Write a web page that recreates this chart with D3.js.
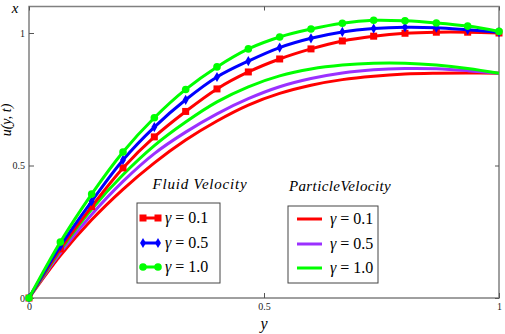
<!DOCTYPE html>
<html>
<head>
<meta charset="utf-8">
<script src="https://cdn.jsdelivr.net/npm/d3@7"></script>
<style>
  body { margin: 0; background: #fff; }
  svg text { font-family: "Liberation Serif", "DejaVu Serif", serif; }
</style>
</head>
<body>
<script>
// y positions where the curves were read (k / 15)
const yPoints = d3.range(16).map(k => k / 15);

// fluid velocity
const fluid01 = [0, 0.185, 0.345, 0.491, 0.608, 0.704, 0.789, 0.853, 0.902, 0.940, 0.970, 0.988, 0.999, 1.003, 1.003, 1.000];
const fluid05 = [0, 0.196, 0.365, 0.521, 0.645, 0.748, 0.834, 0.894, 0.945, 0.980, 1.004, 1.017, 1.022, 1.020, 1.012, 1.003];
const fluid10 = [0, 0.211, 0.392, 0.551, 0.680, 0.787, 0.872, 0.940, 0.985, 1.015, 1.037, 1.048, 1.046, 1.038, 1.026, 1.006];

// particle velocity
const part01 = [0, 0.160, 0.295, 0.410, 0.510, 0.596, 0.668, 0.728, 0.772, 0.803, 0.824, 0.837, 0.845, 0.848, 0.849, 0.848];
const part05 = [0, 0.170, 0.315, 0.440, 0.545, 0.626, 0.695, 0.752, 0.797, 0.828, 0.849, 0.861, 0.866, 0.865, 0.858, 0.848];
const part10 = [0, 0.180, 0.335, 0.465, 0.575, 0.664, 0.740, 0.797, 0.838, 0.864, 0.879, 0.886, 0.886, 0.879, 0.866, 0.848];

const gammaLabels = ["0.1", "0.5", "1.0"];
const xTicks = [0, 0.5, 1];
const yTicks = [0, 0.5, 1];

const width = 505, height = 334;
const plotL = 29, plotR = 499, plotT = 6.5, plotB = 298;
const serif = '"Liberation Serif", "Times New Roman", "DejaVu Serif", serif';

const svg = d3.select("body").append("svg")
  .attr("width", width)
  .attr("height", height);

const xScale = d3.scaleLinear().domain([0, 1]).range([plotL, plotR]);
const yScale = d3.scaleLinear().domain([0, 1.1]).range([plotB, plotT]);

const line = d3.line()
  .x((d, i) => xScale(yPoints[i]))
  .y(d => yScale(d))
  .curve(d3.curveCatmullRom);

const fluidSeries = [
  { values: fluid01, color: "#ff0000", marker: "square" },
  { values: fluid05, color: "#0000ff", marker: "diamond" },
  { values: fluid10, color: "#00ff00", marker: "circle" }
];
const particleSeries = [
  { values: part01, color: "#ff0000" },
  { values: part05, color: "#9b30ff" },
  { values: part10, color: "#00ff00" }
];

// frame
svg.append("rect")
  .attr("x", plotL).attr("y", plotT)
  .attr("width", plotR - plotL).attr("height", plotB - plotT)
  .style("fill", "none").style("stroke", "#808080").style("stroke-width", 1.5);

// axes, ticks inside
const axisStyle = g => {
  g.select(".domain").remove();
  g.selectAll(".tick line").style("stroke", "#555");
  g.selectAll("text").style("font-family", serif).style("font-size", "10px").style("fill", "#222");
};
svg.append("g")
  .attr("transform", "translate(0," + plotB + ")")
  .call(d3.axisBottom(xScale).tickValues(xTicks).tickSizeInner(-5).tickPadding(5).tickFormat(d3.format("")))
  .call(axisStyle);
svg.append("g")
  .attr("transform", "translate(0," + plotT + ")")
  .call(d3.axisTop(xScale).tickValues(xTicks).tickSizeInner(-4).tickFormat(""))
  .call(axisStyle);
svg.append("g")
  .attr("transform", "translate(" + plotL + ",0)")
  .call(d3.axisLeft(yScale).tickValues(yTicks).tickSizeInner(-5).tickPadding(4).tickFormat(d3.format("")))
  .call(axisStyle);
svg.append("g")
  .attr("transform", "translate(" + plotR + ",0)")
  .call(d3.axisRight(yScale).tickValues(yTicks).tickSizeInner(-4).tickFormat(""))
  .call(axisStyle);

// particle curves
particleSeries.forEach(s => {
  svg.append("path")
    .datum(s.values)
    .attr("d", line)
    .style("fill", "none").style("stroke", s.color).style("stroke-width", 3);
});

// fluid curves with markers
const drawMarker = (g, type, cx, cy, color) => {
  if (type === "square") {
    g.append("rect").attr("x", cx - 3.5).attr("y", cy - 3.5).attr("width", 7).attr("height", 7).style("fill", color);
  } else if (type === "diamond") {
    g.append("path").attr("d", d3.symbol(d3.symbolDiamond, 30)()).attr("transform", "translate(" + cx + "," + cy + ")").style("fill", color);
  } else {
    g.append("circle").attr("cx", cx).attr("cy", cy).attr("r", 3.8).style("fill", color);
  }
};
fluidSeries.forEach(s => {
  const g = svg.append("g");
  g.append("path")
    .datum(s.values)
    .attr("d", line)
    .style("fill", "none").style("stroke", s.color).style("stroke-width", 3);
  s.values.forEach((v, i) => drawMarker(g, s.marker, xScale(yPoints[i]), yScale(v), s.color));
});

// axis titles
svg.append("text")
  .attr("x", 264).attr("y", 329)
  .attr("text-anchor", "middle")
  .style("font-family", serif).style("font-style", "italic").style("font-size", "16px")
  .text("y");
svg.append("text")
  .attr("transform", "translate(11,120) rotate(-90)")
  .attr("text-anchor", "middle")
  .style("font-family", serif).style("font-style", "italic").style("font-size", "14px")
  .text("u(y, t)");
svg.append("text")
  .attr("x", 15).attr("y", 13)
  .attr("text-anchor", "middle")
  .style("font-family", serif).style("font-style", "italic").style("font-size", "15px")
  .text("x");

// legends
const legendRows = [218, 243, 267];

svg.append("text")
  .attr("x", 200).attr("y", 189)
  .attr("text-anchor", "middle")
  .style("font-family", serif).style("font-style", "italic").style("font-size", "15px")
  .style("letter-spacing", "0.8px")
  .text("Fluid Velocity");
svg.append("rect")
  .attr("x", 137).attr("y", 203).attr("width", 83).attr("height", 80)
  .style("fill", "white").style("stroke", "#444").style("stroke-width", 1);
fluidSeries.forEach((s, i) => {
  const g = svg.append("g");
  const yy = legendRows[i];
  g.append("line").attr("x1", 143).attr("x2", 158).attr("y1", yy).attr("y2", yy)
    .style("stroke", s.color).style("stroke-width", 3);
  drawMarker(g, s.marker, 143, yy, s.color);
  drawMarker(g, s.marker, 158, yy, s.color);
  const t = g.append("text").attr("x", 165).attr("y", yy + 5)
    .style("font-family", serif).style("font-size", "16px");
  t.append("tspan").style("font-style", "italic").text("γ");
  t.append("tspan").text(" = " + gammaLabels[i]);
});

svg.append("text")
  .attr("x", 340).attr("y", 191)
  .attr("text-anchor", "middle")
  .style("font-family", serif).style("font-style", "italic").style("font-size", "15px")
  .style("letter-spacing", "0.4px")
  .text("ParticleVelocity");
svg.append("rect")
  .attr("x", 288).attr("y", 206).attr("width", 90).attr("height", 77)
  .style("fill", "white").style("stroke", "#444").style("stroke-width", 1);
particleSeries.forEach((s, i) => {
  const g = svg.append("g");
  const yy = legendRows[i] + 1;
  g.append("line").attr("x1", 297).attr("x2", 322).attr("y1", yy).attr("y2", yy)
    .style("stroke", s.color).style("stroke-width", 3);
  const t = g.append("text").attr("x", 330).attr("y", yy + 5)
    .style("font-family", serif).style("font-size", "16px");
  t.append("tspan").style("font-style", "italic").text("γ");
  t.append("tspan").text(" = " + gammaLabels[i]);
});
</script>
</body>
</html>
